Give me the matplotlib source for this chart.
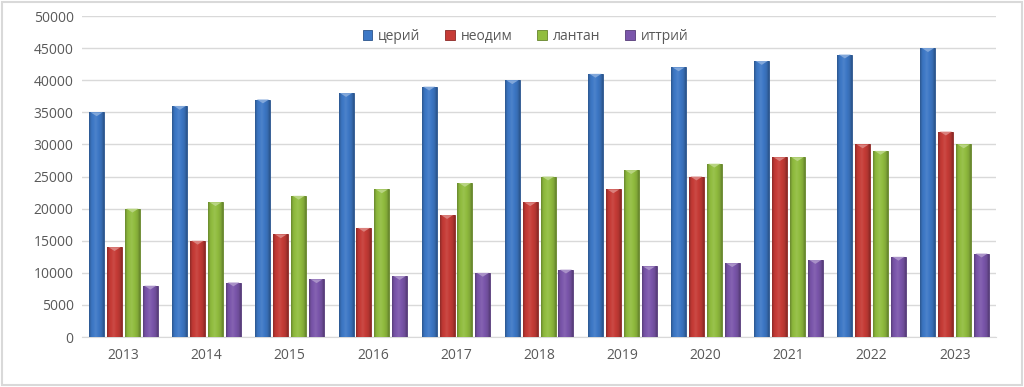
import numpy as np
import matplotlib.pyplot as plt
from matplotlib.colors import LinearSegmentedColormap, to_rgb
from matplotlib.patches import Rectangle

plt.rcParams['font.family'] = ['Open Sans', 'DejaVu Sans']

years = ["2013", "2014", "2015", "2016", "2017", "2018", "2019", "2020", "2021", "2022", "2023"]
cerium = [35000, 36000, 37000, 38000, 39000, 40000, 41000, 42000, 43000, 44000, 45000]
neodymium = [14000, 15000, 16000, 17000, 19000, 21000, 23000, 25000, 28000, 30000, 32000]
lanthanum = [20000, 21000, 22000, 23000, 24000, 25000, 26000, 27000, 28000, 29000, 30000]
yttrium = [8000, 8500, 9000, 9500, 10000, 10500, 11000, 11500, 12000, 12500, 13000]

series = [
    ("церий", cerium, "#3d78c6"),
    ("неодим", neodymium, "#c63b36"),
    ("лантан", lanthanum, "#91bd3f"),
    ("иттрий", yttrium, "#7b56ab"),
]


def shade(c, f):
    r, g, b = to_rgb(c)
    if f >= 1:
        return tuple(x + (1 - x) * (f - 1) for x in (r, g, b))
    return tuple(x * f for x in (r, g, b))


fig = plt.figure(figsize=(10.24, 3.87), dpi=100)
ax = fig.add_axes([0.080, 0.129, 0.893, 0.8295])

x = np.arange(len(years))
width = 0.18
step = 0.215
offsets = (np.arange(4) - 1.5) * step

grad = np.linspace(0, 1, 64)
profile = np.interp(grad, [0, 0.15, 0.45, 0.85, 1], [0.72, 0.95, 1.08, 0.9, 0.7])

for (name, vals, color), off in zip(series, offsets):
    bars = ax.bar(x + off, vals, width, color=color, edgecolor=shade(color, 0.7),
                  linewidth=0.6, label=name, zorder=3)
    cmap = LinearSegmentedColormap.from_list(name, [shade(color, p) for p in profile])
    for b in bars:
        x0, y0 = b.get_x(), b.get_y()
        w, h = b.get_width(), b.get_height()
        im = ax.imshow(grad[np.newaxis, :], cmap=cmap, aspect="auto",
                       extent=[x0, x0 + w, y0, y0 + h], zorder=3.5)
        im.set_clip_path(b)
        # small bevel triangle at the top
        ax.fill([x0 + w * 0.1, x0 + w * 0.9, x0 + w * 0.5],
                [y0 + h, y0 + h, y0 + h - 600],
                color=shade(color, 1.35), zorder=4, lw=0)

ax.set_xlim(-0.5, len(years) - 0.5)
ax.set_ylim(0, 50000)
ax.set_yticks(range(0, 50001, 5000))
ax.set_xticks(x)
ax.set_xticklabels(years)
ax.tick_params(length=0, labelsize=10, colors="#595959", pad=6)
ax.tick_params(axis="x", pad=8)
ax.grid(axis="y", color="#d9d9d9", linewidth=1, zorder=0)
ax.set_axisbelow(True)
for s in ["top", "right", "left"]:
    ax.spines[s].set_visible(False)
ax.spines["bottom"].set_color("#d9d9d9")

ax.legend(loc="upper center", bbox_to_anchor=(0.485, 1.0), ncol=4, frameon=False,
          fontsize=10, handlelength=0.7, handleheight=0.7, handletextpad=0.4,
          columnspacing=1.8, labelcolor="#595959")

fig.patches.append(Rectangle((0.002, 0.004), 0.996, 0.992, transform=fig.transFigure,
                             fill=False, edgecolor="#d9d9d9", linewidth=1.5))

fig.savefig("out.png", dpi=100)
